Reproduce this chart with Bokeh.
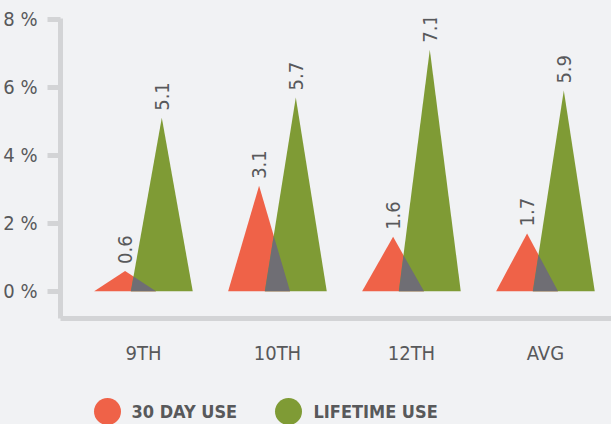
import numpy as np
from bokeh.plotting import figure
from bokeh.models import Range1d, FixedTicker, ColumnDataSource
from bokeh.layouts import column
from bokeh.embed import file_html
from bokeh.resources import INLINE
from bokeh.core.properties import value

# ---- data ----
categories = ["9TH", "10TH", "12TH", "AVG"]
day30 = [0.6, 3.1, 1.6, 1.7]
lifetime = [5.1, 5.7, 7.1, 5.9]
series_names = ["30 DAY USE", "LIFETIME USE"]
y_ticks = [0, 2, 4, 6, 8]

# ---- style ----
RED = "#ef6248"
GREEN = "#7f9b35"
GREY = "#6f6e74"
BG = "#f1f2f4"
AXIS = "#d3d4d6"
TXT = "#58595b"
FONT = "DejaVu Sans Condensed"
W = 611
D = 0.137   # offset of series centre from category centre
HW = 0.231  # half width of a triangle

pos = np.arange(len(categories))
r = np.array(day30, dtype=float)
g = np.array(lifetime, dtype=float)

xr = pos - D
xg = pos + D

red_src = ColumnDataSource(dict(
    xs=[[c - HW, c, c + HW] for c in xr],
    ys=[[0, h, 0] for h in r]))
green_src = ColumnDataSource(dict(
    xs=[[c - HW, c, c + HW] for c in xg],
    ys=[[0, h, 0] for h in g]))

# overlap of red right edge and green left edge
xi = (r * (xr + HW) + g * (xg - HW)) / (r + g)
yi = r * (xr + HW - xi) / HW
grey_src = ColumnDataSource(dict(
    xs=[[a - HW, x0, b + HW] for a, x0, b in zip(xg, xi, xr)],
    ys=[[0, y0, 0] for y0 in yi]))

p = figure(width=W, height=383,
           x_range=Range1d(-0.619, 3.493), y_range=Range1d(-0.80, 8.02),
           output_backend="svg", toolbar_location=None,
           min_border_left=60, min_border_right=0,
           min_border_top=18, min_border_bottom=65)

p.patches("xs", "ys", source=red_src, fill_color=RED, line_color=None)
p.patches("xs", "ys", source=green_src, fill_color=GREEN, line_color=None)
p.patches("xs", "ys", source=grey_src, fill_color=GREY, line_color=None)

lab_src = ColumnDataSource(dict(
    x=list(xr) + list(xg),
    y=list(r) + list(g),
    t=[f"{v:.1f}" for v in day30] + [f"{v:.1f}" for v in lifetime]))
p.text("x", "y", text="t", source=lab_src, angle=np.pi / 2,
       text_align="left", text_baseline="middle", y_offset=-7,
       text_font=value(FONT), text_font_size="20px", text_color=TXT)

p.grid.visible = False
p.outline_line_color = None
p.background_fill_color = BG
p.border_fill_color = BG

ya = p.yaxis[0]
ya.ticker = FixedTicker(ticks=y_ticks)
ya.major_label_overrides = {t: f"{t} %" for t in y_ticks}
ya.axis_line_width = 5
ya.axis_line_color = AXIS
ya.major_tick_line_width = 5
ya.major_tick_line_color = AXIS
ya.major_tick_out = 13
ya.major_tick_in = 0
ya.minor_tick_out = 0
ya.minor_tick_in = 0
ya.major_label_standoff = 10
ya.major_label_text_font = FONT
ya.major_label_text_font_size = "20px"
ya.major_label_text_color = TXT

xa = p.xaxis[0]
xa.ticker = FixedTicker(ticks=list(pos))
xa.major_label_overrides = {int(i): c for i, c in zip(pos, categories)}
xa.axis_line_width = 5
xa.axis_line_color = AXIS
xa.major_tick_out = 0
xa.major_tick_in = 0
xa.minor_tick_out = 0
xa.minor_tick_in = 0
xa.major_label_standoff = 22
xa.major_label_text_font = FONT
xa.major_label_text_font_size = "20px"
xa.major_label_text_color = TXT

# legend strip (its frame is aligned with the chart frame, which starts at x=60)
lg = figure(width=W, height=41, x_range=Range1d(60, W), y_range=Range1d(0, 41),
            output_backend="svg", toolbar_location=None,
            x_axis_type=None, y_axis_type=None,
            min_border_left=60, min_border_right=0,
            min_border_top=0, min_border_bottom=0)
lg.grid.visible = False
lg.outline_line_color = None
lg.background_fill_color = BG
lg.border_fill_color = BG
lg.scatter(x=[107, 288], y=[13, 13], size=27, color=[RED, GREEN], line_color=None)
lg.text(x=[131, 313], y=[13, 13], text=series_names,
        text_align="left", text_baseline="middle",
        text_font=value(FONT), text_font_style="bold",
        text_font_size="18px", text_color=TXT)

layout = column(p, lg, spacing=0, styles={"background-color": BG})
open("out.html", "w").write(file_html(layout, INLINE))
